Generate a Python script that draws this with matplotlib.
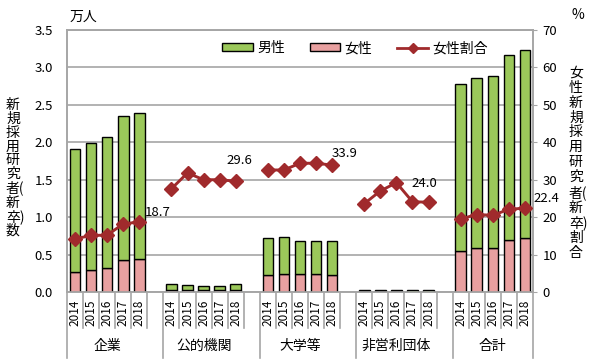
import matplotlib
matplotlib.use('Agg')
import matplotlib.pyplot as plt
import matplotlib.transforms as mtransforms
from matplotlib.patches import Patch
from matplotlib.lines import Line2D

plt.rcParams['font.family'] = ['Noto Sans CJK JP', 'DejaVu Sans']

# data (万人, %)
groups = ['企業', '公的機関', '大学等', '非営利団体', '合計']
years = ['2014', '2015', '2016', '2017', '2018']
female = [
    [0.27, 0.30, 0.315, 0.43, 0.445],
    [0.029, 0.030, 0.026, 0.026, 0.033],
    [0.227, 0.236, 0.235, 0.235, 0.223],
    [0.007, 0.007, 0.008, 0.005, 0.005],
    [0.547, 0.583, 0.59, 0.694, 0.717],
]
male = [
    [1.64, 1.685, 1.755, 1.92, 1.945],
    [0.078, 0.063, 0.059, 0.059, 0.077],
    [0.489, 0.494, 0.45, 0.45, 0.462],
    [0.021, 0.020, 0.019, 0.017, 0.017],
    [2.226, 2.27, 2.294, 2.466, 2.513],
]
ratio = [
    [14.2, 15.1, 15.2, 18.2, 18.7],
    [27.6, 31.8, 30.0, 30.0, 29.6],
    [32.6, 32.6, 34.4, 34.4, 33.9],
    [23.6, 27.0, 29.2, 24.1, 24.0],
    [19.5, 20.7, 20.5, 22.1, 22.4],
]
# label offsets for the last value of each group (points)
label_offsets = [(3.6, 6.7, 'left'), (2.4, 15.1, 'center'), (8.6, 8.6, 'center'),
                 (-3.2, 13.2, 'center'), (15.5, 7.2, 'center')]

green = '#9BC85A'
pink = '#E8A0A0'
red = '#A02A2C'
grid_c = '#A6A6A6'

fig = plt.figure(figsize=(6, 3.59), dpi=100)
ax = fig.add_axes([67 / 600, 1 - 292 / 359, 466 / 600, 262 / 359])
ax2 = ax.twinx()

slot = 6  # 5 years + 1 gap
n_slots = len(groups) * slot - 1
for g in range(len(groups)):
    xs = [g * slot + i for i in range(len(years))]
    ax.bar(xs, female[g], width=0.66, color=pink, edgecolor='black', linewidth=1, zorder=3)
    ax.bar(xs, male[g], bottom=female[g], width=0.66, color=green, edgecolor='black',
           linewidth=1, zorder=3)
    ax2.plot(xs, ratio[g], color=red, linewidth=2.1, marker='D', markersize=6.8, zorder=4)
    dx, dy, ha = label_offsets[g]
    ax2.annotate(f'{ratio[g][-1]:.1f}', xy=(xs[-1], ratio[g][-1]), xytext=(dx, dy),
                 textcoords='offset points', ha=ha, va='center', fontsize=9.5)

ax.set_xlim(-0.5, n_slots - 0.5)
ax.set_ylim(0, 3.5)
ax.set_yticks([i * 0.5 for i in range(8)])
ax.set_yticklabels([f'{i * 0.5:.1f}' for i in range(8)], fontsize=9.5)
ax.tick_params(axis='y', length=0, pad=10)
ax.set_xticks([])
ax.grid(axis='y', color=grid_c, linewidth=1.2, zorder=0)
ax.set_axisbelow(True)

ax2.set_ylim(0, 70)
ax2.set_yticks(range(0, 71, 10))
ax2.tick_params(axis='y', labelsize=9.5, length=3, pad=4, color=grid_c)

for a in (ax, ax2):
    for s in a.spines.values():
        s.set_color(grid_c)
        s.set_linewidth(1.2)

# category axis: year labels, group labels, divider lines
trans = mtransforms.blended_transform_factory(ax.transData, ax.transAxes)
for g in range(len(groups)):
    start = g * slot
    for i, yr in enumerate(years):
        ax.text(start + i, -0.028, yr, rotation=90, ha='center', va='top',
                fontsize=8.5, transform=trans)
    ax.text(start + 2, -0.206, groups[g], ha='center', va='center', fontsize=10,
            transform=trans)
    for i in range(1, len(years)):
        ax.plot([start + i - 0.5] * 2, [0, -0.137], color=grid_c, lw=1.2,
                transform=trans, clip_on=False)
    ax.plot([start - 0.5] * 2, [0, -0.25], color=grid_c, lw=1.2, transform=trans, clip_on=False)
    if g < len(groups) - 1:
        ax.plot([start + 4.5] * 2, [0, -0.137], color=grid_c, lw=1.2,
                transform=trans, clip_on=False)
ax.plot([n_slots - 0.5] * 2, [0, -0.25], color=grid_c, lw=1.2, transform=trans, clip_on=False)

# titles and axis labels
fig.text(70 / 600, 1 - 17 / 359, '万人', ha='left', va='center', fontsize=10)
fig.text(578 / 600, 1 - 15 / 359, '%', ha='center', va='center', fontsize=10)
left_lab = ['新', '規', '採', '用', '研', '究', '者(', '新', '卒)', '数']
right_lab = ['女', '性', '新', '規', '採', '用', '研', '究', '者(', '新', '卒)', '割', '合']
fig.text(6 / 600, 1 - 168 / 359, '\n'.join(left_lab), ha='left', va='center',
         fontsize=10, linespacing=0.98, multialignment='left')
fig.text(569 / 600, 1 - 163 / 359, '\n'.join(right_lab), ha='left', va='center',
         fontsize=10, linespacing=1.08, multialignment='left')

handles = [Patch(facecolor=green, edgecolor='black', linewidth=1),
           Patch(facecolor=pink, edgecolor='black', linewidth=1),
           Line2D([], [], color=red, linewidth=2, marker='D', markersize=5)]
ax2.legend(handles, ['男性', '女性', '女性割合'], loc='center', bbox_to_anchor=(0.618, 0.931),
           ncol=3, frameon=False, fontsize=10, handlelength=2.2, handleheight=0.45,
           columnspacing=1.8, handletextpad=0.3)

fig.savefig('out.png', dpi=100)
